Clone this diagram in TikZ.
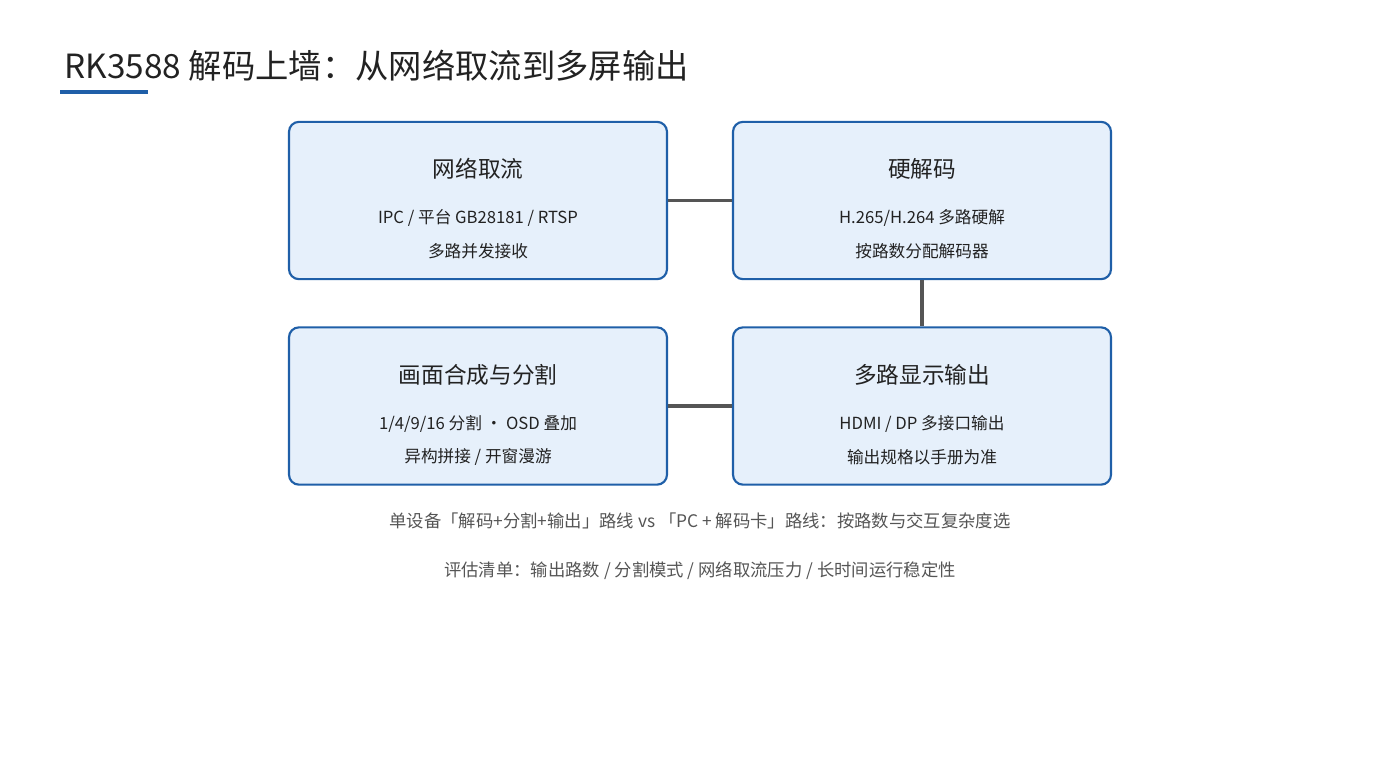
\documentclass[tikz,border=0pt]{standalone}
\usepackage{fontspec}
\setmainfont{Noto Sans CJK SC}
\begin{document}
\begin{tikzpicture}[x=0.75pt,y=-0.75pt,
  box/.style={draw=boxblue,line width=1.6pt,fill=boxfill,rounded corners=7.5pt,minimum width=283.5pt,minimum height=118pt,inner sep=0pt},
  ttl/.style={font=\fontsize{17}{20}\selectfont,text=txt},
  sub/.style={font=\fontsize{12.5}{15}\selectfont,text=txt},
  note/.style={font=\fontsize{13}{16}\selectfont,text=gtxt},
  conn/.style={draw=lgray,line width=2.3pt}]
\definecolor{boxblue}{HTML}{1F5FA8}
\definecolor{boxfill}{HTML}{E6F0FB}
\definecolor{txt}{HTML}{222222}
\definecolor{gtxt}{HTML}{555555}
\definecolor{lgray}{HTML}{555555}
\useasboundingbox (0,0) rectangle (1400,760);
\node[anchor=base west,font=\fontsize{25}{30}\selectfont,text=txt] (title) at (60,78) {RK3588 解码上墙：从网络取流到多屏输出};
\fill[boxblue] (60,90) rectangle (148,94);
\node[box] (a) at (478,200.5) {};
\node[box] (b) at (922,200.5) {};
\node[box] (c) at (478,406) {};
\node[box] (d) at (922,406) {};
\draw[conn] (a.east) -- (b.west);
\draw[conn] (b.south) -- (d.north);
\draw[conn] (c.east) -- (d.west);
\node[ttl] (a1) at (478,169) {网络取流};
\node[sub] (a2) at (478,218) {IPC / 平台 GB28181 / RTSP};
\node[sub] (a3) at (478,251) {多路并发接收};
\node[ttl] (b1) at (922,169) {硬解码};
\node[sub] (b2) at (922,218) {H.265/H.264 多路硬解};
\node[sub] (b3) at (922,251) {按路数分配解码器};
\node[ttl] (c1) at (478,375) {画面合成与分割};
\node[sub] (c2) at (478,424) {1/4/9/16 分割 · OSD 叠加};
\node[sub] (c3) at (478,457) {异构拼接 / 开窗漫游};
\node[ttl] (d1) at (922,375) {多路显示输出};
\node[sub] (d2) at (922,424) {HDMI / DP 多接口输出};
\node[sub] (d3) at (922,457) {输出规格以手册为准};
\node[note] (n1) at (700,521) {单设备「解码+分割+输出」路线 vs 「PC + 解码卡」路线：按路数与交互复杂度选};
\node[note] (n2) at (700,571) {评估清单：输出路数 / 分割模式 / 网络取流压力 / 长时间运行稳定性};
\end{tikzpicture}
\end{document}
